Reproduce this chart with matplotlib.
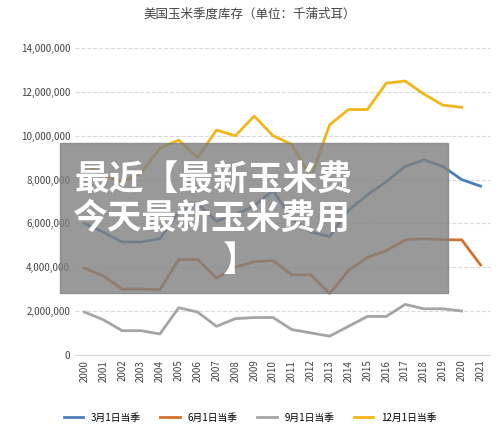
import matplotlib
matplotlib.use('Agg')
import matplotlib.pyplot as plt
import numpy as np
plt.rcParams['font.family'] = ['Noto Sans CJK SC', 'DejaVu Sans']

years = list(range(2000, 2022))
mar = [6.0,5.6,5.15,5.15,5.3,6.5,6.9,6.1,6.4,6.8,7.5,6.2,5.6,5.4,6.6,7.3,7.9,8.6,8.9,8.6,8.0,7.7]
jun = [3.95,3.6,3.0,3.0,2.97,4.35,4.35,3.5,4.0,4.25,4.3,3.65,3.65,2.8,3.85,4.45,4.75,5.25,5.3,5.25,5.25,4.1]
sep = [1.95,1.6,1.1,1.1,0.95,2.15,1.95,1.3,1.65,1.7,1.7,1.15,1.0,0.85,1.3,1.75,1.75,2.3,2.1,2.1,2.0]
dec = [8.7,8.2,7.9,8.3,9.44,9.8,9.0,10.26,10.0,10.9,10.0,9.6,8.1,10.5,11.2,11.2,12.4,12.5,11.9,11.4,11.3]
labels = ['3月1日当季','6月1日当季','9月1日当季','12月1日当季']
colors = ['#4a7ebb','#d0722c','#a5a5a5','#f2b619']

fig = plt.figure(figsize=(5.0,4.38), dpi=100)
ax = fig.add_axes([0.15,0.19,0.83,0.70])
for vals, lab, c in zip([mar,jun,sep,dec], labels, colors):
    v = np.array(vals)*1e6
    ax.plot(years[:len(v)], v, color=c, lw=2, label=lab)
ax.set_ylim(0,14e6)
ax.set_yticks(np.arange(0,14.1e6,2e6))
ax.set_yticklabels([f'{int(t):,}' for t in np.arange(0,14.1e6,2e6)], fontsize=7, color='#444')
ax.set_xlim(1999.5,2021.5)
ax.set_xticks(years)
ax.set_xticklabels([str(y) for y in years], rotation=90, fontsize=7, color='#444')
ax.grid(axis='y', ls='--', color='#d9d9d9', lw=0.8)
for s in ['top','right','left']:
    ax.spines[s].set_visible(False)
ax.spines['bottom'].set_color('#d9d9d9')
ax.tick_params(length=0)
fig.text(0.5,0.96,'美国玉米季度库存（单位：千蒲式耳）', ha='center', fontsize=9, color='#444')
fig.legend(loc='lower center', ncol=4, frameon=False, fontsize=7, bbox_to_anchor=(0.5,0.015))
fig.patches.append(plt.Rectangle((0.12,0.33),0.775,0.343, transform=fig.transFigure, color='#808080', alpha=0.8, zorder=5))
fig.text(0.15,0.59,'最近【最新玉米费', fontsize=25, color='white', weight='bold', zorder=6, va='center')
fig.text(0.145,0.502,'今天最新玉米费用', fontsize=25, color='white', weight='bold', zorder=6, va='center')
fig.text(0.445,0.405,'】', fontsize=25, color='white', weight='bold', zorder=6, va='center')
fig.savefig('out.png')
